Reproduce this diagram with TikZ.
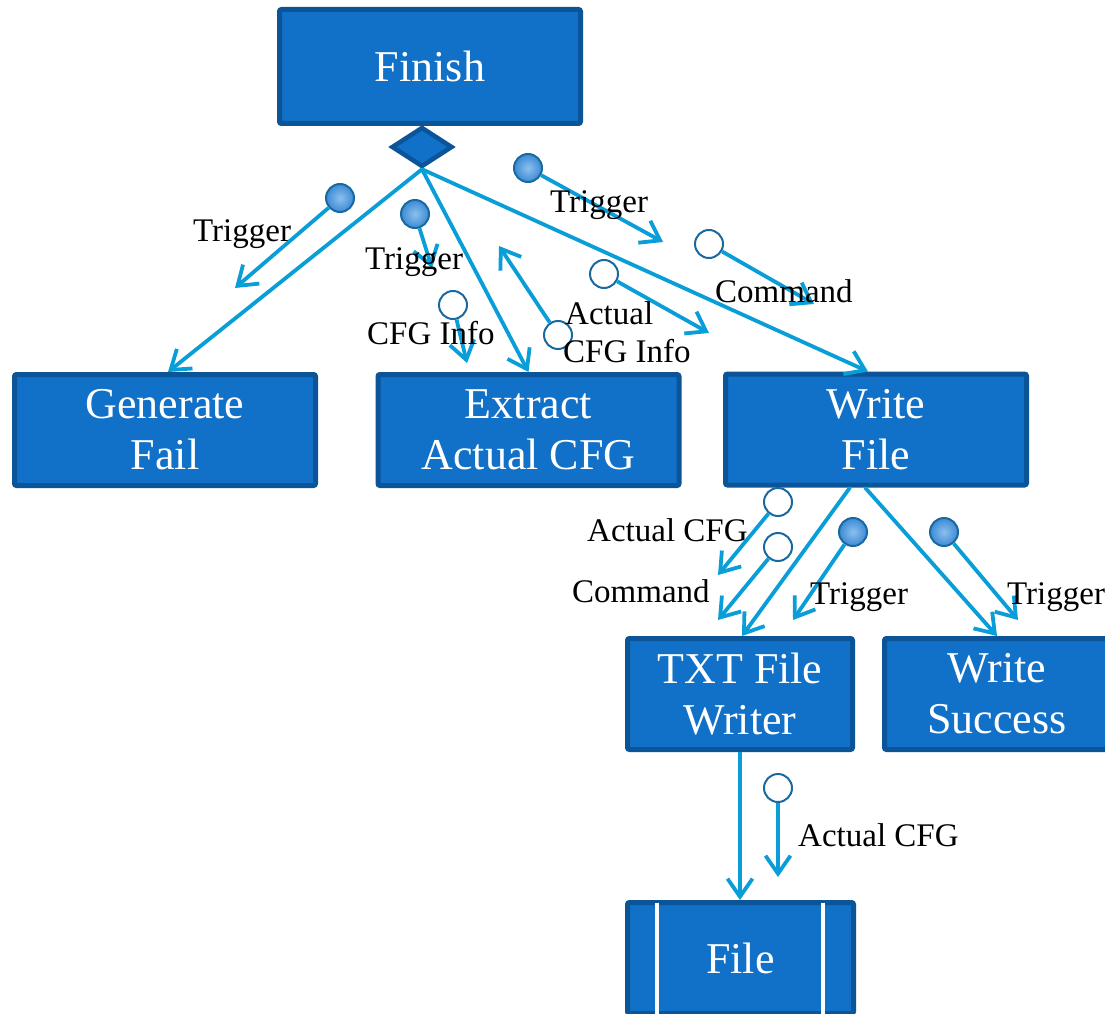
\documentclass[tikz,border=0pt]{standalone}
\usepackage{fontspec}
\setmainfont{Liberation Serif}
\usetikzlibrary{arrows.meta,shapes.geometric}
\definecolor{boxfill}{RGB}{17,112,199}
\definecolor{boxline}{RGB}{12,84,152}
\definecolor{flow}{RGB}{10,158,216}
\definecolor{ballrim}{RGB}{25,105,160}
\definecolor{balllight}{RGB}{140,192,238}
\definecolor{balldark}{RGB}{60,138,212}

\begin{document}
\begin{tikzpicture}[x=1pt,y=-1pt,
  proc/.style={draw=boxline, fill=boxfill, line width=5pt, rounded corners=2pt,
    minimum width=301pt, minimum height=111pt, inner sep=0pt, text=white,
    align=center, font=\fontsize{44}{51}\selectfont},
  fork/.style={shape=diamond, draw=boxline, fill=boxfill, line width=4.5pt,
    minimum width=61pt, minimum height=40pt, inner sep=0pt},
  flowline/.style={draw=flow, line width=3.8pt,
    -{Straight Barb[length=18pt,width=25pt]}},
  trig/.style={circle, draw=ballrim, line width=2pt, inner color=balllight,
    outer color=balldark, minimum size=28pt, inner sep=0pt},
  data/.style={circle, draw=ballrim, line width=2pt, fill=white,
    minimum size=28pt, inner sep=0pt},
  lbl/.style={anchor=base west, inner sep=0pt, font=\fontsize{33}{38}\selectfont},
]
\useasboundingbox (0,0) rectangle (1105,1014);
\clip (0,0) rectangle (1105,1014);
\fill[white] (0,0) rectangle (1105,1014);

% process boxes
\node[proc, minimum height=114pt] (finish) at (430,66.5) {Finish};
\node[fork] (fk) at (422,147) {};
\node[proc] (gen) at (165,430) {Generate\\Fail};
\node[proc] (ext) at (528.5,430) {Extract\\Actual CFG};
\node[proc] (wf) at (876,429.5) {Write\\File};
\node[proc, minimum width=225pt] (txt) at (740,694) {TXT File\\Writer};
\node[proc, minimum width=225pt] (ws) at (997,694) {Write\\Success};
\node[proc, minimum width=226pt] (file) at (740.5,958) {File};
\draw[white, line width=4pt] ([xshift=-83.5pt,yshift=-2.5pt]file.north) -- ([xshift=-83.5pt]file.south);
\draw[white, line width=4pt] ([xshift=82.5pt,yshift=-2.5pt]file.north) -- ([xshift=82.5pt]file.south);

% control flow
\draw[flowline] (fk.south) -- ([xshift=3pt]gen.north);
\draw[flowline] (fk.south) -- (ext.north);
\draw[flowline] (fk.south) -- ([xshift=-8pt]wf.north);
\draw[flowline] ([xshift=-26pt]wf.south) -- ([xshift=2pt]txt.north);
\draw[flowline] ([xshift=-11pt]wf.south) -- (ws.north);
\draw[flowline] (txt.south) -- ([xshift=-0.5pt]file.north);

% messages: circles and their end points
\node[trig] (ma) at (340,198) {};  \coordinate (ea) at (235,288);
\node[trig] (mb) at (415,214) {};  \coordinate (eb) at (432,268);
\node[data] (mc) at (453,305) {};  \coordinate (ec) at (467,363);
\node[data] (md) at (558,335) {};  \coordinate (ed) at (499,246);
\node[trig] (me) at (528,168) {};  \coordinate (ee) at (663,242);
\node[data] (mf) at (709,244) {};  \coordinate (ef) at (814,304);
\node[data] (mg) at (604,274) {};  \coordinate (eg) at (709,333);
\node[data] (mh) at (778,502) {};  \coordinate (eh) at (718,575);
\node[data] (mi) at (778,547) {};  \coordinate (ei) at (718,620);
\node[trig] (mj) at (853,532) {};  \coordinate (ej) at (793,620);
\node[trig] (mk) at (944,532) {};  \coordinate (ek) at (1018,620);
\node[data] (ml) at (778,788) {};  \coordinate (el) at (778,877);

\foreach \m in {a,b,c,d,e,f,g,h,i,j,k,l}
  \draw[flowline] (m\m) -- (e\m);

% message labels
\node[lbl] (la) at (193,241) {Trigger};
\node[lbl] (lb) at (365,269) {Trigger};
\node[lbl] (lc) at (367,344) {CFG Info};
\node[lbl] (ld1) at (565,324) {Actual};
\node[lbl] (ld2) at (563,362) {CFG Info};
\node[lbl] (le) at (550,212) {Trigger};
\node[lbl] (lf) at (715,302) {Command};
\node[lbl] (lh) at (587,541) {Actual CFG};
\node[lbl] (li) at (572,602) {Command};
\node[lbl] (lj) at (810,604) {Trigger};
\node[lbl] (lk) at (1007,604) {Trigger};
\node[lbl] (ll) at (798,846) {Actual CFG};
\end{tikzpicture}
\end{document}
